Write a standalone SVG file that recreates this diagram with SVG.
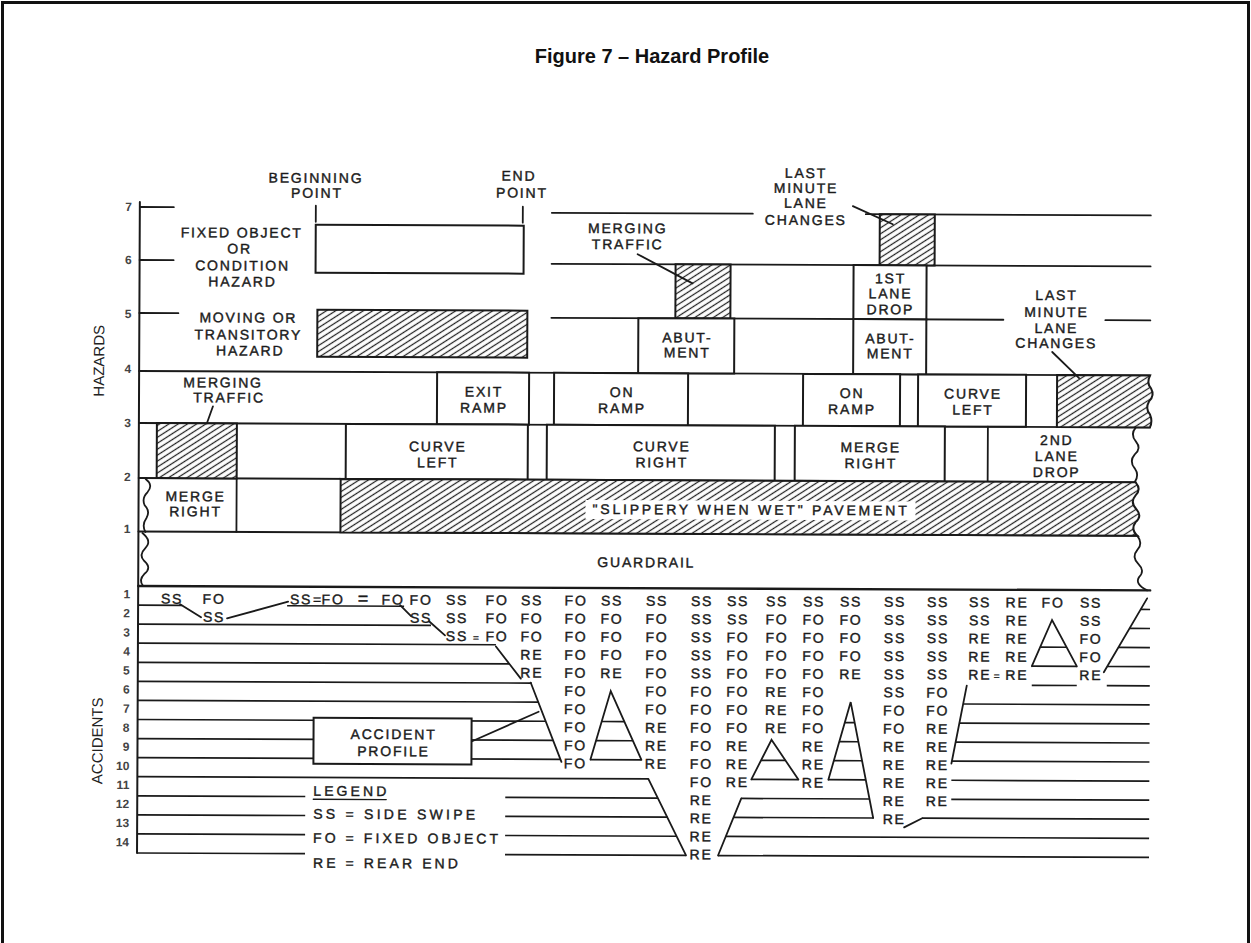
<svg xmlns="http://www.w3.org/2000/svg" width="1251" height="943" viewBox="0 0 1251 943">
<defs>
<pattern id="hatch" patternUnits="userSpaceOnUse" width="8" height="5" patternTransform="rotate(-33)">
<rect width="8" height="5" fill="#fff"/>
<line x1="0" y1="2.5" x2="8" y2="2.5" stroke="#222" stroke-width="1.25"/>
</pattern>
<style>
.ln{stroke:#1a1a1a;stroke-width:1.8;fill:none;stroke-linecap:round}
.gl{stroke:#1a1a1a;stroke-width:1.7;fill:none}
.bx{fill:#fff;stroke:#1a1a1a;stroke-width:2}
.ht{fill:url(#hatch);stroke:#1a1a1a;stroke-width:2}
.h{font-family:"Liberation Sans",Arial,sans-serif;font-size:14px;letter-spacing:1.8px;fill:#1a1a1a;stroke:#1a1a1a;stroke-width:0.4;text-anchor:middle}
.c{font-family:"Liberation Sans",Arial,sans-serif;font-size:14px;letter-spacing:1.8px;fill:#1a1a1a;stroke:#1a1a1a;stroke-width:0.4;text-anchor:middle}
.n{font-family:"Liberation Sans",Arial,sans-serif;font-size:12px;font-weight:bold;fill:#444;text-anchor:end}
.ax{font-family:"Liberation Sans",Arial,sans-serif;font-size:15px;fill:#222;text-anchor:middle}
.ttl{font-family:"Liberation Sans",Arial,sans-serif;font-size:20px;font-weight:bold;fill:#111;text-anchor:middle}
.lg{font-family:"Liberation Sans",Arial,sans-serif;font-size:14px;fill:#1a1a1a;stroke:#1a1a1a;stroke-width:0.4}
</style>
</defs>
<rect width="1251" height="943" fill="#fff"/>
<path d="M2.5,943 V2.5 H1248.5 V943" fill="none" stroke="#111" stroke-width="3"/>
<text class="ttl" x="652" y="63">Figure 7 – Hazard Profile</text>

<g transform="rotate(0.25 140 400)">
<g id="axis">
<line class="ln" x1="139" y1="202" x2="139" y2="853" style="stroke-width:2"/>
<path class="ln" d="M139,207H173 M139,260H173 M139,313H178"/>
<text class="ax" transform="translate(104,361) rotate(-90)">HAZARDS</text>
<text class="ax" transform="translate(104,741) rotate(-90)">ACCIDENTS</text>
<text class="n" x="131" y="211">7</text>
<text class="n" x="131" y="264">6</text>
<text class="n" x="131" y="318">5</text>
<text class="n" x="131" y="373">4</text>
<text class="n" x="131" y="427">3</text>
<text class="n" x="131" y="481">2</text>
<text class="n" x="131" y="533">1</text>
<text class="n" x="131" y="598.4">1</text>
<text class="n" x="131" y="617.4">2</text>
<text class="n" x="131" y="636.5">3</text>
<text class="n" x="131" y="655.6">4</text>
<text class="n" x="131" y="674.7">5</text>
<text class="n" x="131" y="693.7">6</text>
<text class="n" x="131" y="712.8">7</text>
<text class="n" x="131" y="731.9">8</text>
<text class="n" x="131" y="750.9">9</text>
<text class="n" x="131" y="770">10</text>
<text class="n" x="131" y="789.1">11</text>
<text class="n" x="131" y="808.1">12</text>
<text class="n" x="131" y="827.2">13</text>
<text class="n" x="131" y="846.3">14</text>
</g>

<g id="hazard-grid">
<path class="ln" d="M551,211H752 M865,211H1150 M551,262H1150 M551,316H1003 M1105,316H1150 M139,371H1150 M139,423H1150 M139,478H1136 M139,531.5H1138"/>
<line class="ln" x1="139" y1="586" x2="1151" y2="586" style="stroke-width:2.4"/>
<path class="ln" d="M146,479 q8,6 2,13 q-6,6 -3,13 q6,6 2,13 q-5,7 -1,14"/>
<path class="ln" d="M143,533 q10,8 3,15 q-7,7 -1,13 q8,7 0,13 q-6,6 -1,12"/>
<path class="ln" d="M1136,423 q-6,7 0,14 q6,7 -1,13 q-6,7 0,14 q5,7 0,14"/>
<path class="ln" d="M1138,531.5 q6,8 0,14 q-6,7 1,14 q7,7 1,13 q-5,7 8,13.5"/>
</g>

<g id="legend-begin">
<text class="h" x="315" y="182">BEGINNING</text>
<text class="h" x="316" y="197">POINT</text>
<line class="ln" x1="315" y1="205" x2="315" y2="221"/>
</g>
<g id="legend-end">
<text class="h" x="518" y="179">END</text>
<text class="h" x="521" y="196">POINT</text>
<line class="ln" x1="522" y1="205" x2="522" y2="221"/>
</g>
<g id="legend-fixed">
<text class="h" x="241" y="237">FIXED OBJECT</text>
<text class="h" x="239" y="253">OR</text>
<text class="h" x="242" y="270">CONDITION</text>
<text class="h" x="242" y="286">HAZARD</text>
<rect class="bx" x="315" y="224" width="208" height="48"/>
</g>
<g id="legend-moving">
<text class="h" x="248" y="322">MOVING OR</text>
<text class="h" x="248" y="339">TRANSITORY</text>
<text class="h" x="250" y="355">HAZARD</text>
<rect class="ht" x="317" y="309" width="210" height="47"/>
</g>

<g id="merging-traffic-6">
<rect class="ht" x="675" y="262" width="55" height="54"/>
<text class="h" x="627" y="231">MERGING</text>
<text class="h" x="627" y="247">TRAFFIC</text>
</g>
<g id="last-minute-7">
<rect class="ht" x="879" y="211" width="55" height="51"/>
<text class="h" x="805" y="175">LAST</text>
<text class="h" x="805" y="190">MINUTE</text>
<text class="h" x="805" y="205">LANE</text>
<text class="h" x="805" y="222">CHANGES</text>
</g>
<g id="first-lane-drop">
<rect class="bx" x="853" y="262" width="73" height="54"/>
<text class="h" x="890" y="280">1ST</text>
<text class="h" x="890" y="295">LANE</text>
<text class="h" x="890" y="311">DROP</text>
</g>
<g id="abutment-1">
<rect class="bx" x="638" y="316" width="96" height="55"/>
<text class="h" x="687" y="340">ABUT-</text>
<text class="h" x="687" y="355">MENT</text>
</g>
<g id="abutment-2">
<rect class="bx" x="853" y="316" width="73" height="55"/>
<text class="h" x="890" y="340">ABUT-</text>
<text class="h" x="890" y="355">MENT</text>
</g>
<g id="last-minute-34">
<path class="ht" d="M1057,371 H1150 q-4,8 1,13 q4,7 -2,13 q-4,7 1,13 q3,7 0,13 H1057 Z"/>
<text class="h" x="1056" y="296">LAST</text>
<text class="h" x="1056" y="313">MINUTE</text>
<text class="h" x="1056" y="329">LANE</text>
<text class="h" x="1056" y="344">CHANGES</text>
</g>

<g id="merging-traffic-3">
<text class="h" x="223" y="387">MERGING</text>
<text class="h" x="229" y="402">TRAFFIC</text>
<rect class="ht" x="157" y="423" width="80" height="55"/>
</g>
<g id="exit-ramp">
<rect class="bx" x="437" y="371" width="92" height="52"/>
<text class="h" x="484" y="395">EXIT</text>
<text class="h" x="484" y="411">RAMP</text>
</g>
<g id="on-ramp-1">
<rect class="bx" x="554" y="371" width="134" height="52"/>
<text class="h" x="622" y="395">ON</text>
<text class="h" x="622" y="411">RAMP</text>
</g>
<g id="on-ramp-2">
<rect class="bx" x="803" y="371" width="97" height="52"/>
<text class="h" x="852" y="395">ON</text>
<text class="h" x="852" y="411">RAMP</text>
</g>
<g id="curve-left-34">
<rect class="bx" x="918" y="371" width="108" height="52"/>
<text class="h" x="973" y="395">CURVE</text>
<text class="h" x="973" y="411">LEFT</text>
</g>

<g id="curve-left-23">
<rect class="bx" x="346" y="423" width="182" height="55"/>
<text class="h" x="438" y="450">CURVE</text>
<text class="h" x="438" y="466">LEFT</text>
</g>
<g id="curve-right">
<rect class="bx" x="547" y="423" width="228" height="55"/>
<text class="h" x="662" y="449">CURVE</text>
<text class="h" x="662" y="465">RIGHT</text>
</g>
<g id="merge-right-23">
<rect class="bx" x="795" y="423" width="150" height="55"/>
<text class="h" x="871" y="449">MERGE</text>
<text class="h" x="871" y="465">RIGHT</text>
</g>
<g id="second-lane-drop">
<line class="ln" x1="988" y1="423" x2="988" y2="478"/>
<text class="h" x="1057" y="441">2ND</text>
<text class="h" x="1057" y="457">LANE</text>
<text class="h" x="1057" y="473">DROP</text>
</g>

<g id="merge-right-12">
<line class="ln" x1="237" y1="478" x2="237" y2="531.5"/>
<text class="h" x="196" y="501">MERGE</text>
<text class="h" x="196" y="516">RIGHT</text>
</g>
<g id="slippery">
<path class="ht" d="M341,478 H1136 q6,7 0,13 q-6,7 1,14 q6,7 -1,13 q-5,7 2,13.5 H341 Z"/>
<rect x="586" y="498" width="330" height="19" fill="#fff"/>
<text class="h" x="751" y="512" textLength="316" lengthAdjust="spacing">"SLIPPERY WHEN WET" PAVEMENT</text>
</g>
<g id="guardrail">
<text class="h" x="647" y="565">GUARDRAIL</text>
</g>

<g id="accident-grid">
<path class="gl" d="
M139,605.1H183 M288,605.1H405 M1141.6,605.1H1151
M139,624.1H432 M1130.5,624.1H1151
M139,643.2H497 M1041,643.2H1068 M1119.5,643.2H1151
M139,662.3H510.5 M1033,662.3H1078 M1108.3,662.3H1151
M139,681.4H533 M1033,681.4H1078 M1108,681.4H1151
M139,700.4H539.6 M964.5,700.4H1151
M139,719.5H547 M603,719.5H626 M846,719.5H856 M961,719.5H1151
M139,738.6H554.6 M597.5,738.6H634.4 M841,738.6H860 M957,738.6H1151
M139,757.6H562 M592,757.6H643 M762.6,757.6H787 M835.4,757.6H863.6 M953.5,757.6H1151
M139,776.7H650 M753,776.7H800 M830,776.7H867.4 M953,776.7H1151
M139,795.8H307 M507,795.8H659.8 M743,795.8H871.2 M953,795.8H1151
M139,814.8H307 M507,814.8H669.4 M735.4,814.8H875 M924,814.8H1151
M139,833.9H307 M507,833.9H678.9 M727.7,833.9H1151
M139,853H307 M507,853H688 M720,853H1151"/>
</g>

<g id="connectors">
<path class="ln" d="M213,406 L207,423"/>
<path class="ln" d="M637,252 L692,281"/>
<path class="ln" d="M852,203 L892,221"/>
<path class="ln" d="M1052,348 L1079,374"/>
<path class="ln" d="M473,740 L540,710"/>
<path class="ln" d="M181,604 L202,617 M228,618 L289,601 M401,604 L412,615 M430,620 L446,634 M497,645 L522,677 M532,681 L563,760"/>
<path class="ln" d="M592,757.6 L612,689 L643,757.6"/>
<path class="ln" d="M650,776.7 L688,853 M720,853 L743,795.8"/>
<path class="ln" d="M753,776.7 L773,737 L800,776.7"/>
<path class="ln" d="M830,776.7 L852,699 L875,814.8"/>
<path class="ln" d="M906,824 L924,814.8 M953,760 L968,682"/>
<path class="ln" d="M1033,662.3 L1053,616 L1078,662.3"/>
<path class="ln" d="M1105,668 L1148,594"/>
</g>

<g id="accident-profile">
<rect class="bx" x="315" y="717" width="158" height="46"/>
<text class="h" x="395" y="738">ACCIDENT</text>
<text class="h" x="395" y="755">PROFILE</text>
</g>

<g id="legend">
<text class="lg" x="315" y="795" textLength="73" lengthAdjust="spacing">LEGEND</text>
<line class="ln" x1="315" y1="798.5" x2="388" y2="798.5" style="stroke-width:1.3"/>
<text class="lg" x="315" y="818" textLength="162" lengthAdjust="spacing">SS = SIDE SWIPE</text>
<text class="lg" x="315" y="842" textLength="185" lengthAdjust="spacing">FO = FIXED OBJECT</text>
<text class="lg" x="315" y="867" textLength="145" lengthAdjust="spacing">RE = REAR END</text>
</g>

<g id="codes">
<text class="c"><tspan x="173" y="603.5">SS</tspan></text>
<text class="c"><tspan x="215" y="603.5">FO</tspan><tspan x="215" dy="18.1">SS</tspan></text>
<text class="c" y="603.5"><tspan x="302">SS</tspan><tspan x="318" style="letter-spacing:0">=</tspan><tspan x="334">FO</tspan><tspan x="364" style="letter-spacing:0;font-size:18px">=</tspan><tspan x="394">FO</tspan></text>
<text class="c"><tspan x="422" y="603.5">FO</tspan><tspan x="422" dy="18.1">SS</tspan></text>
<text class="c"><tspan x="458" y="603.5">SS</tspan><tspan x="458" dy="18.1">SS</tspan><tspan x="458" dy="18.1">SS</tspan></text>
<text class="c" x="477" y="639.7" style="font-size:10px;letter-spacing:0">=</text>
<text class="c"><tspan x="498" y="603.5">FO</tspan><tspan x="498" dy="18.1">FO</tspan><tspan x="498" dy="18.1">FO</tspan></text>
<text class="c"><tspan x="533" y="603.5">SS</tspan><tspan x="533" dy="18.1">FO</tspan><tspan x="533" dy="18.1">FO</tspan><tspan x="533" dy="18.1">RE</tspan><tspan x="533" dy="18.1">RE</tspan></text>
<text class="c"><tspan x="577" y="603.5">FO</tspan><tspan x="577" dy="18.1">FO</tspan><tspan x="577" dy="18.1">FO</tspan><tspan x="577" dy="18.1">FO</tspan><tspan x="577" dy="18.1">FO</tspan><tspan x="577" dy="18.1">FO</tspan><tspan x="577" dy="18.1">FO</tspan><tspan x="577" dy="18.1">FO</tspan><tspan x="577" dy="18.1">FO</tspan><tspan x="577" dy="18.1">FO</tspan></text>
<text class="c"><tspan x="613" y="603.5">SS</tspan><tspan x="613" dy="18.1">FO</tspan><tspan x="613" dy="18.1">FO</tspan><tspan x="613" dy="18.1">FO</tspan><tspan x="613" dy="18.1">RE</tspan></text>
<text class="c"><tspan x="658" y="603.5">SS</tspan><tspan x="658" dy="18.1">FO</tspan><tspan x="658" dy="18.1">FO</tspan><tspan x="658" dy="18.1">FO</tspan><tspan x="658" dy="18.1">FO</tspan><tspan x="658" dy="18.1">FO</tspan><tspan x="658" dy="18.1">FO</tspan><tspan x="658" dy="18.1">RE</tspan><tspan x="658" dy="18.1">RE</tspan><tspan x="658" dy="18.1">RE</tspan></text>
<text class="c"><tspan x="703" y="603.5">SS</tspan><tspan x="703" dy="18.1">SS</tspan><tspan x="703" dy="18.1">SS</tspan><tspan x="703" dy="18.1">SS</tspan><tspan x="703" dy="18.1">SS</tspan><tspan x="703" dy="18.1">FO</tspan><tspan x="703" dy="18.1">FO</tspan><tspan x="703" dy="18.1">FO</tspan><tspan x="703" dy="18.1">FO</tspan><tspan x="703" dy="18.1">FO</tspan><tspan x="703" dy="18.1">FO</tspan><tspan x="703" dy="18.1">RE</tspan><tspan x="703" dy="18.1">RE</tspan><tspan x="703" dy="18.1">RE</tspan><tspan x="703" dy="18.1">RE</tspan></text>
<text class="c"><tspan x="739" y="603.5">SS</tspan><tspan x="739" dy="18.1">SS</tspan><tspan x="739" dy="18.1">FO</tspan><tspan x="739" dy="18.1">FO</tspan><tspan x="739" dy="18.1">FO</tspan><tspan x="739" dy="18.1">FO</tspan><tspan x="739" dy="18.1">FO</tspan><tspan x="739" dy="18.1">FO</tspan><tspan x="739" dy="18.1">RE</tspan><tspan x="739" dy="18.1">RE</tspan><tspan x="739" dy="18.1">RE</tspan></text>
<text class="c"><tspan x="778" y="603.5">SS</tspan><tspan x="778" dy="18.1">FO</tspan><tspan x="778" dy="18.1">FO</tspan><tspan x="778" dy="18.1">FO</tspan><tspan x="778" dy="18.1">FO</tspan><tspan x="778" dy="18.1">RE</tspan><tspan x="778" dy="18.1">RE</tspan><tspan x="778" dy="18.1">RE</tspan></text>
<text class="c"><tspan x="815" y="603.5">SS</tspan><tspan x="815" dy="18.1">FO</tspan><tspan x="815" dy="18.1">FO</tspan><tspan x="815" dy="18.1">FO</tspan><tspan x="815" dy="18.1">FO</tspan><tspan x="815" dy="18.1">FO</tspan><tspan x="815" dy="18.1">FO</tspan><tspan x="815" dy="18.1">FO</tspan><tspan x="815" dy="18.1">RE</tspan><tspan x="815" dy="18.1">RE</tspan><tspan x="815" dy="18.1">RE</tspan></text>
<text class="c"><tspan x="852" y="603.5">SS</tspan><tspan x="852" dy="18.1">FO</tspan><tspan x="852" dy="18.1">FO</tspan><tspan x="852" dy="18.1">FO</tspan><tspan x="852" dy="18.1">RE</tspan></text>
<text class="c"><tspan x="896" y="603.5">SS</tspan><tspan x="896" dy="18.1">SS</tspan><tspan x="896" dy="18.1">SS</tspan><tspan x="896" dy="18.1">SS</tspan><tspan x="896" dy="18.1">SS</tspan><tspan x="896" dy="18.1">SS</tspan><tspan x="896" dy="18.1">FO</tspan><tspan x="896" dy="18.1">FO</tspan><tspan x="896" dy="18.1">RE</tspan><tspan x="896" dy="18.1">RE</tspan><tspan x="896" dy="18.1">RE</tspan><tspan x="896" dy="18.1">RE</tspan><tspan x="896" dy="18.1">RE</tspan></text>
<text class="c"><tspan x="939" y="603.5">SS</tspan><tspan x="939" dy="18.1">SS</tspan><tspan x="939" dy="18.1">SS</tspan><tspan x="939" dy="18.1">SS</tspan><tspan x="939" dy="18.1">SS</tspan><tspan x="939" dy="18.1">FO</tspan><tspan x="939" dy="18.1">FO</tspan><tspan x="939" dy="18.1">RE</tspan><tspan x="939" dy="18.1">RE</tspan><tspan x="939" dy="18.1">RE</tspan><tspan x="939" dy="18.1">RE</tspan><tspan x="939" dy="18.1">RE</tspan></text>
<text class="c"><tspan x="981" y="603.5">SS</tspan><tspan x="981" dy="18.1">SS</tspan><tspan x="981" dy="18.1">RE</tspan><tspan x="981" dy="18.1">RE</tspan><tspan x="981" dy="18.1">RE</tspan></text>
<text class="c" x="998" y="675.9" style="font-size:10px;letter-spacing:0">=</text>
<text class="c"><tspan x="1018" y="603.5">RE</tspan><tspan x="1018" dy="18.1">RE</tspan><tspan x="1018" dy="18.1">RE</tspan><tspan x="1018" dy="18.1">RE</tspan><tspan x="1018" dy="18.1">RE</tspan></text>
<text class="c"><tspan x="1054" y="603.5">FO</tspan></text>
<text class="c"><tspan x="1092" y="603.5">SS</tspan><tspan x="1092" dy="18.1">SS</tspan><tspan x="1092" dy="18.1">FO</tspan><tspan x="1092" dy="18.1">FO</tspan><tspan x="1092" dy="18.1">RE</tspan></text>
</g>
</g>
</svg>
